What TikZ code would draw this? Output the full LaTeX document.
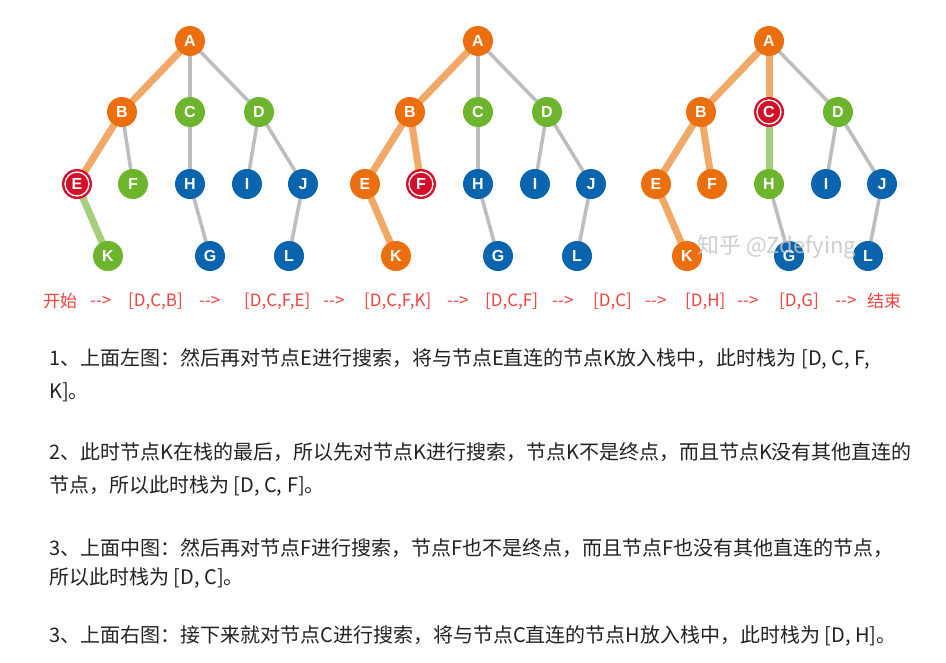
\documentclass[tikz,border=0pt]{standalone}
\usepackage{fontspec}
\setmainfont{Noto Sans CJK SC}
\newfontfamily\lblfont{Liberation Sans}
\usetikzlibrary{backgrounds}
\definecolor{cor}{HTML}{EB6E0F}
\definecolor{cgr}{HTML}{6CB52D}
\definecolor{cbl}{HTML}{0B64AE}
\definecolor{crd}{HTML}{D30F2A}
\definecolor{cgy}{HTML}{BDBDBD}
\definecolor{coe}{HTML}{F2A866}
\definecolor{cle}{HTML}{A5CF7C}
\definecolor{cred}{HTML}{F5403F}
\definecolor{ctxt}{HTML}{222222}
\begin{document}
\begin{tikzpicture}[x=1pt,y=-1pt,
  every node/.style={inner sep=0pt},
  treenode/.style={circle, minimum size=30pt, text=white, font=\lblfont\bfseries\fontsize{16}{16}\selectfont},
  orangenode/.style={treenode, fill=cor},
  greennode/.style={treenode, fill=cgr},
  bluenode/.style={treenode, fill=cbl},
  rednode/.style={treenode, fill=crd, path picture={\draw[white, line width=1.3pt] (path picture bounding box.center) circle (12pt);}},
  grayedge/.style={draw=cgy, line width=3.5pt},
  orangeedge/.style={draw=coe, line width=7pt},
  lightedge/.style={draw=cle, line width=7pt},
  redtext/.style={text=cred, font=\fontsize{17}{17}\selectfont, anchor=west},
  bodytext/.style={text=ctxt, font=\fontsize{20}{20}\selectfont, anchor=west}]
\useasboundingbox (0,0) rectangle (946,662);

% ---------- tree 1 ----------
\node[orangenode] (a1) at (190,41) {A};
\node[orangenode] (b1) at (122,112) {B};
\node[greennode]  (c1) at (190,112) {C};
\node[greennode]  (d1) at (259,112) {D};
\node[rednode]    (e1) at (77,184) {E};
\node[greennode]  (f1) at (133,184) {F};
\node[bluenode]   (h1) at (190,184) {H};
\node[bluenode]   (i1) at (247,184) {I};
\node[bluenode]   (j1) at (303,184) {J};
\node[greennode]  (k1) at (108,256) {K};
\node[bluenode]   (g1) at (210,256) {G};
\node[bluenode]   (l1) at (289,256) {L};

% ---------- tree 2 ----------
\begin{scope}[shift={(288,0)}]
\node[orangenode] (a2) at (190,41) {A};
\node[orangenode] (b2) at (122,112) {B};
\node[greennode]  (c2) at (190,112) {C};
\node[greennode]  (d2) at (259,112) {D};
\node[orangenode] (e2) at (77,184) {E};
\node[rednode]    (f2) at (133,184) {F};
\node[bluenode]   (h2) at (190,184) {H};
\node[bluenode]   (i2) at (247,184) {I};
\node[bluenode]   (j2) at (303,184) {J};
\node[orangenode] (k2) at (108,256) {K};
\node[bluenode]   (g2) at (210,256) {G};
\node[bluenode]   (l2) at (289,256) {L};
\end{scope}

% ---------- tree 3 ----------
\begin{scope}[shift={(579,0)}]
\node[orangenode] (a3) at (190,41) {A};
\node[orangenode] (b3) at (122,112) {B};
\node[rednode]    (c3) at (190,112) {C};
\node[greennode]  (d3) at (259,112) {D};
\node[orangenode] (e3) at (77,184) {E};
\node[orangenode] (f3) at (133,184) {F};
\node[greennode]  (h3) at (190,184) {H};
\node[bluenode]   (i3) at (247,184) {I};
\node[bluenode]   (j3) at (303,184) {J};
\node[orangenode] (k3) at (108,256) {K};
\node[bluenode]   (g3) at (210,256) {G};
\node[bluenode]   (l3) at (289,256) {L};
\end{scope}

\begin{pgfonlayer}{background}
\fill[white] (0,0) rectangle (946,662);
% tree 1 edges
\draw[orangeedge] (a1.center) -- (b1.center);
\draw[grayedge] (a1.center) -- (c1.center);
\draw[grayedge] (a1.center) -- (d1.center);
\draw[orangeedge] (b1.center) -- (e1.center);
\draw[grayedge] (b1.center) -- (f1.center);
\draw[grayedge] (c1.center) -- (h1.center);
\draw[grayedge] (d1.center) -- (i1.center);
\draw[grayedge] (d1.center) -- (j1.center);
\draw[lightedge] (e1.center) -- (k1.center);
\draw[grayedge] (h1.center) -- (g1.center);
\draw[grayedge] (j1.center) -- (l1.center);
% tree 2 edges
\draw[orangeedge] (a2.center) -- (b2.center);
\draw[grayedge] (a2.center) -- (c2.center);
\draw[grayedge] (a2.center) -- (d2.center);
\draw[orangeedge] (b2.center) -- (e2.center);
\draw[orangeedge] (b2.center) -- (f2.center);
\draw[grayedge] (c2.center) -- (h2.center);
\draw[grayedge] (d2.center) -- (i2.center);
\draw[grayedge] (d2.center) -- (j2.center);
\draw[orangeedge] (e2.center) -- (k2.center);
\draw[grayedge] (h2.center) -- (g2.center);
\draw[grayedge] (j2.center) -- (l2.center);
% tree 3 edges
\draw[orangeedge] (a3.center) -- (b3.center);
\draw[orangeedge] (a3.center) -- (c3.center);
\draw[grayedge] (a3.center) -- (d3.center);
\draw[orangeedge] (b3.center) -- (e3.center);
\draw[orangeedge] (b3.center) -- (f3.center);
\draw[lightedge] (c3.center) -- (h3.center);
\draw[grayedge] (d3.center) -- (i3.center);
\draw[grayedge] (d3.center) -- (j3.center);
\draw[orangeedge] (e3.center) -- (k3.center);
\draw[grayedge] (h3.center) -- (g3.center);
\draw[grayedge] (j3.center) -- (l3.center);
\end{pgfonlayer}

% watermark
\node[text=gray!45, opacity=0.85, font=\fontsize{22}{22}\selectfont, anchor=west] (wm) at (697,247) {知乎 @Zdefying};

% ---------- red sequence ----------
\node[redtext] (s0) at (43,301) {开始};
\node[redtext] (s1) at (90,301) {-{}->};
\node[redtext] (s2) at (128,301) {[D,C,B]};
\node[redtext] (s3) at (199,301) {-{}->};
\node[redtext] (s4) at (244,301) {[D,C,F,E]};
\node[redtext] (s5) at (323,301) {-{}->};
\node[redtext] (s6) at (364,301) {[D,C,F,K]};
\node[redtext] (s7) at (447,301) {-{}->};
\node[redtext] (s8) at (485,301) {[D,C,F]};
\node[redtext] (s9) at (552,301) {-{}->};
\node[redtext] (s10) at (593,301) {[D,C]};
\node[redtext] (s11) at (645,301) {-{}->};
\node[redtext] (s12) at (685,301) {[D,H]};
\node[redtext] (s13) at (737,301) {-{}->};
\node[redtext] (s14) at (779,301) {[D,G]};
\node[redtext] (s15) at (835,301) {-{}->};
\node[redtext] (s16) at (867,301) {结束};

% ---------- body text ----------
\node[bodytext] (t1) at (49,359) {1、上面左图：然后再对节点E进行搜索，将与节点E直连的节点K放入栈中，此时栈为 [D, C, F,};
\node[bodytext] (t1b) at (49,392) {K]。};
\node[bodytext] (t2) at (49,452) {2、此时节点K在栈的最后，所以先对节点K进行搜索，节点K不是终点，而且节点K没有其他直连的};
\node[bodytext] (t2b) at (49,486) {节点，所以此时栈为 [D, C, F]。};
\node[bodytext] (t3) at (49,548) {3、上面中图：然后再对节点F进行搜索，节点F也不是终点，而且节点F也没有其他直连的节点，};
\node[bodytext] (t3b) at (49,578) {所以此时栈为 [D, C]。};
\node[bodytext] (t4) at (49,636) {3、上面右图：接下来就对节点C进行搜索，将与节点C直连的节点H放入栈中，此时栈为 [D, H]。};
\end{tikzpicture}
\end{document}
